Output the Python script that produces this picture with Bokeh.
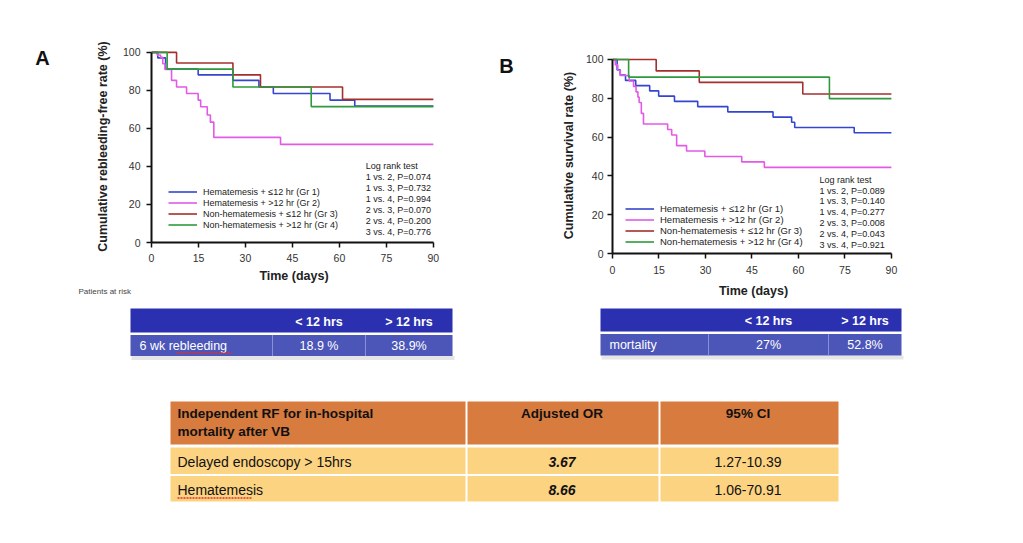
from bokeh.plotting import figure
from bokeh.models import Range1d, FixedTicker, Legend, LegendItem
from bokeh.layouts import column, row
from bokeh.embed import file_html
from bokeh.resources import INLINE
from bokeh.core.properties import value

FONT = "Liberation Sans"

# ---------------- data ----------------
x_ticks = [0, 15, 30, 45, 60, 75, 90]
y_ticks = [0, 20, 40, 60, 80, 100]

group_labels = ["Hematemesis + \u226412 hr (Gr 1)", "Hematemesis + >12 hr (Gr 2)",
                "Non-hematemesis + \u226412 hr (Gr 3)", "Non-hematemesis + >12 hr (Gr 4)"]
group_colors = ["#3446cf", "#e35ae6", "#a4302c", "#2f9a3c"]

# Panel A: cumulative rebleeding-free rate (%)
a_gr1_days = [0, 2.0, 4.5, 14.9, 26.0, 34.3, 38.9, 57.0, 64.9, 90]
a_gr1_vals = [100, 97.1, 91.2, 88.2, 85.3, 81.8, 78.4, 74.9, 71.8, 71.8]
a_gr2_days = [0, 1.8, 2.9, 3.6, 4.3, 6.4, 8.0, 11.2, 14.9, 15.7, 17.8, 18.8, 19.9, 41.2, 90]
a_gr2_vals = [100, 98.6, 97.4, 94.0, 91.0, 85.3, 81.8, 78.4, 74.9, 71.4, 67.1, 63.3, 55.3, 51.6, 51.6]
a_gr3_days = [0, 8.0, 26.0, 34.8, 61.0, 90]
a_gr3_vals = [100, 94.4, 88.2, 81.8, 75.3, 75.3]
a_gr4_days = [0, 5.0, 26.0, 51.0, 90]
a_gr4_vals = [100, 91.2, 81.8, 71.5, 71.5]

# Panel B: cumulative survival rate (%)
b_gr1_days = [0, 1.5, 2.5, 4.2, 7.5, 12.0, 14.9, 20.0, 27.5, 37.2, 51.8, 57.8, 58.8, 78.0, 90]
b_gr1_vals = [100, 94.6, 91.9, 89.2, 86.5, 83.8, 81.1, 78.4, 75.7, 73.0, 70.3, 67.6, 64.9, 62.2, 62.2]
b_gr2_days = [0, 0.9, 1.7, 2.5, 5.4, 6.8, 7.6, 8.2, 8.6, 9.3, 10.0, 17.8, 19.1, 20.7, 23.9, 29.8, 41.7, 49.0, 90]
b_gr2_vals = [100, 97.2, 94.4, 91.7, 88.9, 86.1, 83.3, 80.6, 77.8, 72.2, 66.7, 63.9, 61.1, 55.6, 52.8, 50.0, 47.2, 44.4, 44.4]
b_gr3_days = [0, 14.1, 28.0, 61.4, 90]
b_gr3_vals = [100, 94.1, 88.2, 82.2, 82.2]
b_gr4_days = [0, 5.2, 70.0, 90]
b_gr4_vals = [100, 90.9, 79.8, 79.8]

logrank_a = ["Log rank test", "1 vs. 2, P=0.074", "1 vs. 3, P=0.732", "1 vs. 4, P=0.994",
             "2 vs. 3, P=0.070", "2 vs. 4, P=0.200", "3 vs. 4, P=0.776"]
logrank_b = ["Log rank test", "1 vs. 2, P=0.089", "1 vs. 3, P=0.140", "1 vs. 4, P=0.277",
             "2 vs. 3, P=0.008", "2 vs. 4, P=0.043", "3 vs. 4, P=0.921"]

panel_letters = ["A", "B"]
risk_caption = ["Patients at risk"]

table_a_header = ["", "< 12 hrs", "> 12 hrs"]
table_a_row = ["6 wk rebleeding", "18.9 %", "38.9%"]
table_b_header = ["", "< 12 hrs", "> 12 hrs"]
table_b_row = ["mortality", "27%", "52.8%"]
table_c_header = ["Independent RF for in-hospital", "mortality after VB", "Adjusted OR", "95% CI"]
table_c_factor = ["Delayed endoscopy > 15hrs", "Hematemesis"]
table_c_or = ["3.67", "8.66"]
table_c_ci = ["1.27-10.39", "1.06-70.91"]


def blank(width, height, x0, x1, y_top, y_bot, btop=0, bbot=0):
    # frame spans page pixels y_top..y_bot (after the top/bottom borders)
    f = figure(width=width, height=height, output_backend="svg", toolbar_location=None,
               x_range=Range1d(x0, x1), y_range=Range1d(y_bot, y_top),
               x_axis_type=None, y_axis_type=None, title=None,
               min_border_left=0, min_border_right=0, min_border_top=btop,
               min_border_bottom=bbot)
    f.outline_line_color = None
    f.grid.visible = False
    return f


def km_panel(width, height, left, right, top, bottom, ylabel, series, logrank,
             lr_x, lr_y0, lr_dy, leg_loc, leg_font, ylab_standoff, tick_standoff_y,
             tick_standoff_x, xlab_standoff):
    p = figure(width=width, height=height, output_backend="svg", toolbar_location=None,
               x_range=Range1d(0, 91), y_range=Range1d(0, 101), title=None,
               min_border_left=left, min_border_right=right,
               min_border_top=top, min_border_bottom=bottom)
    p.outline_line_color = None
    p.grid.visible = False
    items = []
    for (d, v), lab, col in zip(series, group_labels, group_colors):
        r = p.step(d, v, mode="after", line_color=col, line_width=1.6)
        items.append(LegendItem(label=lab, renderers=[r]))
    p.xaxis.ticker = FixedTicker(ticks=x_ticks)
    p.yaxis.ticker = FixedTicker(ticks=y_ticks)
    p.xaxis.bounds = (0, 90)
    p.yaxis.bounds = (0, 100)
    p.xaxis.axis_label = "Time (days)"
    p.yaxis.axis_label = ylabel
    for ax in (p.xaxis, p.yaxis):
        ax.axis_line_width = 2
        ax.axis_line_color = "#111"
        ax.major_tick_line_width = 1.5
        ax.major_tick_line_color = "#111"
        ax.major_tick_out = 5
        ax.major_tick_in = 0
        ax.minor_tick_out = 0
        ax.minor_tick_in = 0
        ax.major_label_text_font = FONT
        ax.major_label_text_font_size = "10.5px"
        ax.major_label_text_color = "#333"
        ax.axis_label_text_font = FONT
        ax.axis_label_text_font_style = "bold"
        ax.axis_label_text_font_size = "12.5px"
        ax.axis_label_text_color = "#222"
    p.yaxis.axis_label_standoff = ylab_standoff
    p.yaxis.major_label_standoff = tick_standoff_y
    p.xaxis.major_label_standoff = tick_standoff_x
    p.xaxis.axis_label_standoff = xlab_standoff

    leg = Legend(items=items, location=leg_loc, orientation="vertical",
                 padding=0, margin=0, spacing=0, glyph_height=11, glyph_width=29,
                 label_height=11, label_standoff=6, label_text_font=FONT,
                 label_text_font_size=leg_font, label_text_color="#222",
                 border_line_alpha=0, background_fill_alpha=0)
    p.add_layout(leg, "center")

    ys = [lr_y0 - i * lr_dy for i in range(len(logrank))]
    p.text(x=[lr_x] * len(logrank), y=ys, text=logrank, text_font=value(FONT),
           text_font_size="9px", text_color="#222", text_baseline="middle",
           text_align="left")
    return p


series_a = [(a_gr1_days, a_gr1_vals), (a_gr2_days, a_gr2_vals),
            (a_gr3_days, a_gr3_vals), (a_gr4_days, a_gr4_vals)]
series_b = [(b_gr1_days, b_gr1_vals), (b_gr2_days, b_gr2_vals),
            (b_gr3_days, b_gr3_vals), (b_gr4_days, b_gr4_vals)]

# panel A occupies page x 90..490, y 0..285 (frame y 50..245)
pa = km_panel(400, 285, 61, 54, 50, 40, "Cumulative rebleeding-free rate (%)", series_a,
              logrank_a, 68.4, 40.0, 5.71, (17, 12), "9px", 10, 6, 6, 4)
# panel B occupies page x 530..1023, y 0..300 (frame y 57..255)
pb = km_panel(493, 300, 82, 129, 57, 45, "Cumulative survival rate (%)", series_b,
              logrank_b, 66.8, 38.0, 5.57, (13, 6), "9.5px", 7, 4, 7, 7)

# strips holding the panel letters and the caption (page pixel coordinates);
# their borders match the neighbouring panel so the frames line up
strip_a = blank(90, 285, 0, 90, 50, 245, btop=50, bbot=40)
strip_a.text(x=[42], y=[58], text=panel_letters[:1], text_font=value(FONT),
             text_font_style="bold", text_font_size="20px", text_color="#111",
             text_align="center", text_baseline="middle")
strip_p = blank(490, 15, 0, 490, 285, 300)
strip_p.text(x=[78], y=[291], text=risk_caption, text_font=value(FONT),
             text_font_size="8px", text_color="#444", text_align="left",
             text_baseline="middle")
strip_b = blank(40, 300, 490, 530, 57, 255, btop=57, bbot=45)
strip_b.text(x=[506], y=[66], text=panel_letters[1:], text_font=value(FONT),
             text_font_style="bold", text_font_size="20px", text_color="#111",
             text_align="center", text_baseline="middle")

# ---------------- tables ----------------
pt = blank(1023, 243, 0, 1023, 300, 543)

HDR_BLUE = "#2b30b0"
ROW_BLUE = "#4c56b8"

def blue_table(x_edges, hy, ry, header, rowvals):
    l, r = x_edges[0], x_edges[-1]
    pt.quad(left=[l + 1], right=[r + 2], top=[ry[1]], bottom=[ry[1] + 4],
            fill_color="#000000", fill_alpha=0.10, line_color=None)
    pt.quad(left=[l], right=[r], top=[hy[0]], bottom=[hy[1]], fill_color=HDR_BLUE,
            line_color=None)
    pt.quad(left=[l], right=[r], top=[ry[0]], bottom=[ry[1]], fill_color=ROW_BLUE,
            line_color=None)
    pt.segment(x0=x_edges[1:3], y0=[ry[0]] * 2, x1=x_edges[1:3], y1=[ry[1]] * 2,
               line_color="#8a90d4", line_width=1)
    cx = [(x_edges[i] + x_edges[i + 1]) / 2 for i in (1, 2)]
    pt.text(x=cx, y=[(hy[0] + hy[1]) / 2 + 1] * 2, text=header[1:], text_font=value(FONT),
            text_font_style="bold", text_font_size="12.5px", text_color="white",
            text_align="center", text_baseline="middle")
    pt.text(x=cx, y=[(ry[0] + ry[1]) / 2] * 2, text=rowvals[1:], text_font=value(FONT),
            text_font_size="12.5px", text_color="white", text_align="center",
            text_baseline="middle")
    pt.text(x=[l + 9], y=[(ry[0] + ry[1]) / 2], text=rowvals[:1], text_font=value(FONT),
            text_font_size="12.5px", text_color="white", text_align="left",
            text_baseline="middle")

blue_table([130, 272, 365, 452], (308, 332), (334.5, 355.5), table_a_header, table_a_row)
blue_table([600, 708, 828, 901], (308, 331), (333.5, 355), table_b_header, table_b_row)

# spell-check underline on "rebleeding"
pt.line(x=[176, 231], y=[352.5, 352.5], line_color="#e03030", line_width=1.3, line_dash="2 1")

# orange table
ORANGE = "#d77b3f"
PALE = "#fcd381"
cx_edges = [170, 466, 659, 838]
c_left = [cx_edges[0], cx_edges[1] + 1, cx_edges[2] + 1]
c_right = [cx_edges[1] - 1, cx_edges[2] - 1, cx_edges[3]]
pt.quad(left=c_left, right=c_right, top=[401] * 3, bottom=[444] * 3, fill_color=ORANGE,
        line_color=None)
for top, bot in ((447, 473.5), (475.5, 501)):
    pt.quad(left=c_left, right=c_right, top=[top] * 3, bottom=[bot] * 3, fill_color=PALE,
            line_color=None)

mid1 = (cx_edges[1] + cx_edges[2]) / 2
mid2 = (cx_edges[2] + cx_edges[3]) / 2
pt.text(x=[177, 177], y=[413, 431], text=table_c_header[:2], text_font=value(FONT),
        text_font_style="bold", text_font_size="13.5px", text_color="#111",
        text_align="left", text_baseline="middle")
pt.text(x=[mid1 - 1, mid2 - 1], y=[413, 413], text=table_c_header[2:], text_font=value(FONT),
        text_font_style="bold", text_font_size="13.5px", text_color="#111",
        text_align="center", text_baseline="middle")
row_y = [461, 489]
pt.text(x=[177, 177], y=row_y, text=table_c_factor, text_font=value(FONT),
        text_font_size="14px", text_color="#111", text_align="left", text_baseline="middle")
pt.text(x=[mid1 - 1] * 2, y=row_y, text=table_c_or, text_font=value(FONT),
        text_font_style="bold italic", text_font_size="14px", text_color="#111",
        text_align="center", text_baseline="middle")
pt.text(x=[mid2 - 1] * 2, y=row_y, text=table_c_ci, text_font=value(FONT),
        text_font_size="14px", text_color="#111", text_align="center", text_baseline="middle")
pt.line(x=[177, 252], y=[497.5, 497.5], line_color="#e03030", line_width=1.3, line_dash="2 1")

left_block = column(row(strip_a, pa, spacing=0), strip_p, spacing=0)
right_block = row(strip_b, pb, spacing=0)
layout = column(row(left_block, right_block, spacing=0), pt, spacing=0)
open("out.html", "w").write(file_html(layout, INLINE))
